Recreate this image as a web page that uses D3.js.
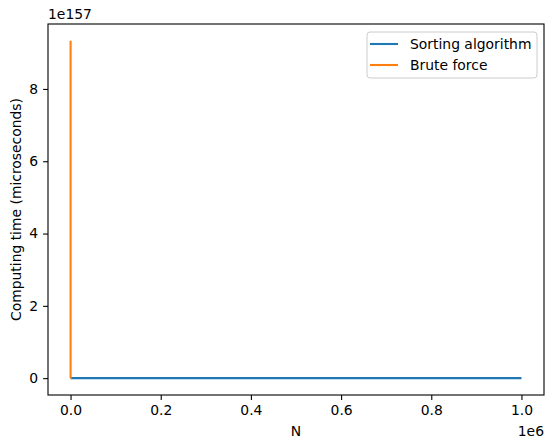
<!DOCTYPE html>
<html>
<head>
<meta charset="utf-8">
<script src="https://cdn.jsdelivr.net/npm/d3@7"></script>
<style>
  body { margin:0; background:#fff; }
  text { font-family: "DejaVu Sans", sans-serif; }
</style>
</head>
<body>
<svg id="chart" width="554" height="448"></svg>
<script>
// values
var sortN = [1, 1000000];
var sortTime = [0, 2.0e7];
var bruteN = [1, 97, 98, 99, 100];
var bruteTime = [1, 9.6e151, 9.4e153, 9.3e155, 9.33e157];
var xTicks = [0, 200000, 400000, 600000, 800000, 1000000];
var yTicks = [0, 2e157, 4e157, 6e157, 8e157];
var seriesNames = ["Sorting algorithm", "Brute force"];
var colors = ["#1f77b4", "#ff7f0e"];

var svg = d3.select("#chart");
var L = 48, R = 544, T = 24, B = 395;
var fs = 13.9;

var x = d3.scaleLinear().domain([-50000, 1050000]).range([L, R]);
var yMax = d3.max(bruteTime);
var y = d3.scaleLinear().domain([-0.05*yMax, 1.05*yMax]).range([B, T]);

var xAxis = svg.append("g").attr("transform", "translate(0," + B + ")")
  .call(d3.axisBottom(x).tickValues(xTicks).tickSize(4.9).tickPadding(4.9)
    .tickFormat(function(d){ return (d/1e6).toFixed(1); }));
var yAxis = svg.append("g").attr("transform", "translate(" + L + ",0)")
  .call(d3.axisLeft(y).tickValues(yTicks).tickSize(4.9).tickPadding(4.9)
    .tickFormat(function(d){ return Math.round(d/1e157); }));
[xAxis, yAxis].forEach(function(a){
  a.select(".domain").remove();
  a.selectAll("line").attr("stroke", "#000").attr("stroke-width", 1.1);
  a.selectAll("text").attr("font-size", fs).attr("fill", "#000")
    .style("font-family", "DejaVu Sans, sans-serif");
});

var line = d3.line().x(function(d){ return x(d[0]); }).y(function(d){ return y(d[1]); });
var series = [d3.zip(sortN, sortTime), d3.zip(bruteN, bruteTime)];
series.forEach(function(s, i){
  svg.append("path").datum(s).attr("d", line)
    .attr("fill", "none").attr("stroke", colors[i]).attr("stroke-width", 2.08);
});

// frame
svg.append("rect").attr("x", L).attr("y", T).attr("width", R - L).attr("height", B - T)
  .attr("fill", "none").attr("stroke", "#000").attr("stroke-width", 1.1);

// offsets and labels
svg.append("text").attr("x", L).attr("y", 19).attr("font-size", fs).text("1e157");
svg.append("text").attr("x", R).attr("y", 436).attr("text-anchor", "end").attr("font-size", fs).text("1e6");
svg.append("text").attr("x", (L + R) / 2).attr("y", 436).attr("text-anchor", "middle").attr("font-size", fs).text("N");
svg.append("text").attr("transform", "translate(21," + ((T + B) / 2) + ") rotate(-90)")
  .attr("text-anchor", "middle").attr("font-size", fs).text("Computing time (microseconds)");

// legend
var lg = svg.append("g");
lg.append("rect").attr("x", 367).attr("y", 32).attr("width", 170).attr("height", 46).attr("rx", 3)
  .attr("fill", "#fff").attr("fill-opacity", 0.8).attr("stroke", "#ccc").attr("stroke-width", 1);
seriesNames.forEach(function(n, i){
  var yy = 44 + i * 21;
  lg.append("line").attr("x1", 370).attr("x2", 398).attr("y1", yy).attr("y2", yy)
    .attr("stroke", colors[i]).attr("stroke-width", 2.08);
  lg.append("text").attr("x", 410).attr("y", yy + 5).attr("font-size", fs).text(n);
});
</script>
</body>
</html>
